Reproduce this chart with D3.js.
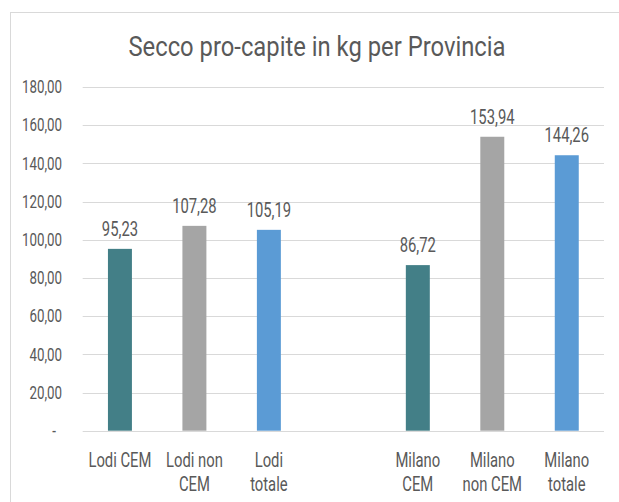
<!DOCTYPE html>
<html>
<head>
<meta charset="utf-8">
<script src="https://cdn.jsdelivr.net/npm/d3@7"></script>
<style>
  html, body { margin: 0; padding: 0; background: #fff; }
  text { font-family: Roboto, "Noto Sans", sans-serif; fill: #595959; }
</style>
</head>
<body>
<div id="chart"></div>
<script>
// dati
const categories = ["Lodi CEM", "Lodi non\nCEM", "Lodi\ntotale", "", "Milano\nCEM", "Milano\nnon CEM", "Milano\ntotale"];
const values = [95.23, 107.28, 105.19, null, 86.72, 153.94, 144.26];
const barColors = ["#437F87", "#A5A5A5", "#5B9BD5", null, "#437F87", "#A5A5A5", "#5B9BD5"];
const yTicks = [0, 20, 40, 60, 80, 100, 120, 140, 160, 180];
const title = "Secco pro-capite in kg per Provincia";

const width = 619;
const height = 502;
const margin = { top: 87, right: 15, bottom: 71.3, left: 82.7 };

const svg = d3.select("#chart")
  .append("svg")
  .attr("width", width)
  .attr("height", height);

// cornice
svg.append("rect")
  .attr("x", 10.5)
  .attr("y", 12.5)
  .attr("width", 620)
  .attr("height", 500)
  .attr("fill", "#fff")
  .attr("stroke", "#D9D9D9");

const keys = categories.map((c, i) => i);

const x = d3.scaleBand()
  .domain(keys)
  .range([margin.left, width - margin.right])
  .paddingInner(0.678)
  .paddingOuter(0.339);

const y = d3.scaleLinear()
  .domain([0, 180])
  .range([height - margin.bottom, margin.top]);

const fmt = v => v.toFixed(2).replace(".", ",");

// griglia
svg.append("g")
  .selectAll("line")
  .data(yTicks)
  .join("line")
  .attr("x1", margin.left)
  .attr("x2", width - margin.right)
  .attr("y1", d => Math.round(y(d)) + 0.5)
  .attr("y2", d => Math.round(y(d)) + 0.5)
  .attr("stroke", "#D9D9D9")
  .attr("stroke-width", 1);

// etichette asse y
svg.append("g")
  .selectAll("text")
  .data(yTicks)
  .join("text")
  .attr("class", "narrow")
  .attr("x", d => d === 0 ? 56 : 62)
  .attr("y", d => y(d))
  .attr("dy", "0.35em")
  .attr("text-anchor", "end")
  .style("font-size", "18px")
  .text(d => d === 0 ? "-" : fmt(d));

// barre
const barData = keys.filter(i => values[i] != null);

svg.append("g")
  .selectAll("rect")
  .data(barData)
  .join("rect")
  .attr("x", i => x(i))
  .attr("y", i => y(values[i]))
  .attr("width", x.bandwidth())
  .attr("height", i => y(0) - y(values[i]))
  .attr("fill", i => barColors[i]);

// etichette valori
svg.append("g")
  .selectAll("text")
  .data(barData)
  .join("text")
  .attr("class", "narrow")
  .attr("x", i => x(i) + x.bandwidth() / 2)
  .attr("y", i => y(values[i]) - 13)
  .attr("text-anchor", "middle")
  .style("font-size", "20px")
  .text(i => fmt(values[i]));

// etichette categorie
const catG = svg.append("g")
  .selectAll("text")
  .data(keys)
  .join("text")
  .attr("text-anchor", "middle")
  .style("font-size", "20px");

catG.selectAll("tspan")
  .data(i => categories[i].split("\n").filter(s => s).map((s, j) => ({ s, j, i })))
  .join("tspan")
  .attr("class", "narrow")
  .attr("x", d => x(d.i) + x.bandwidth() / 2)
  .attr("y", d => 467 + d.j * 24)
  .text(d => d.s);

// titolo
svg.append("text")
  .attr("class", "narrow title")
  .attr("x", 317)
  .attr("y", 56)
  .attr("text-anchor", "middle")
  .style("font-size", "28px")
  .text(title);

// font condensato: comprimo il testo in orizzontale
svg.selectAll(".narrow").each(function () {
  const len = this.getComputedTextLength();
  const k = this.classList.contains("title") ? 0.85 : 0.74;
  if (len > 0) {
    d3.select(this)
      .attr("textLength", len * k)
      .attr("lengthAdjust", "spacingAndGlyphs");
  }
});
</script>
</body>
</html>
